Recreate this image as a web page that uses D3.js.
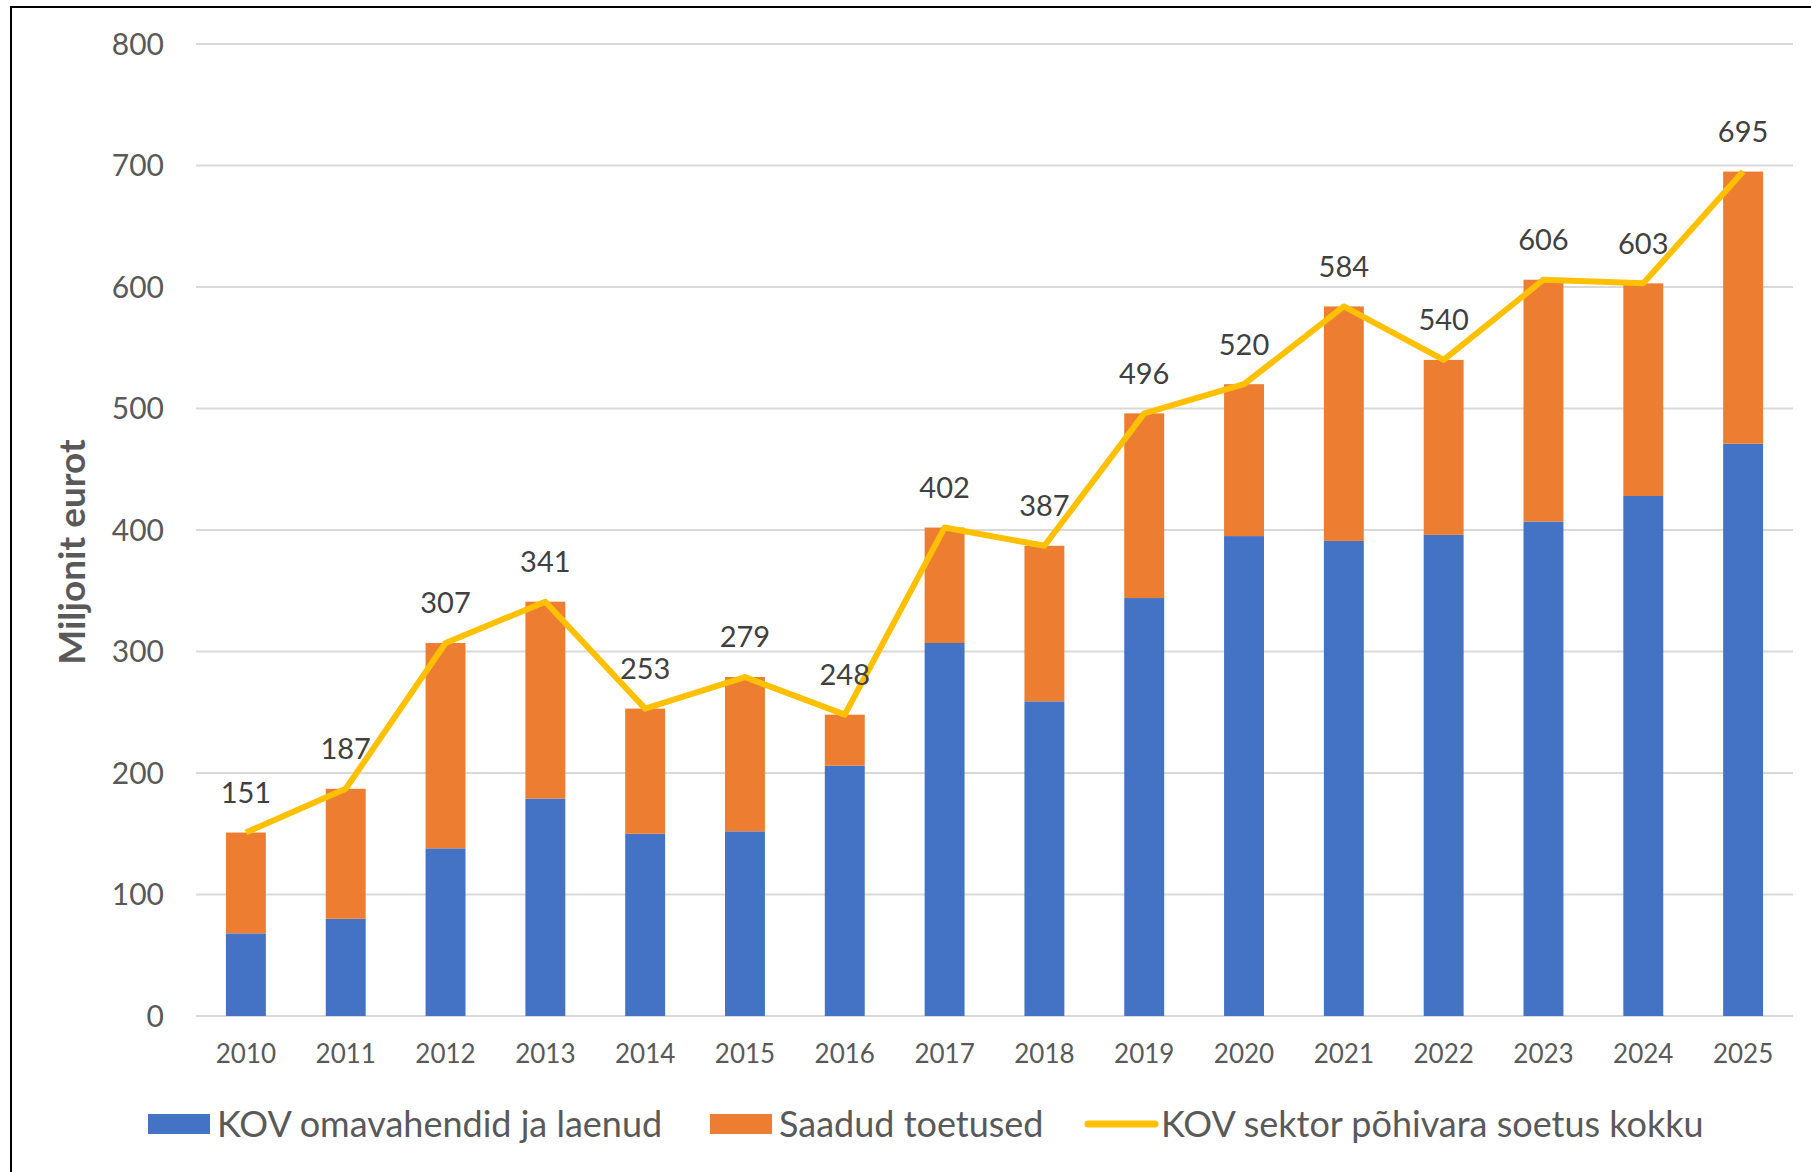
<!DOCTYPE html>
<html>
<head>
<meta charset="utf-8">
<script src="https://d3js.org/d3.v7.min.js"></script>
<style>
  body { margin: 0; background: #fff; }
  svg { display: block; font-family: Lato, "Open Sans", sans-serif; }
</style>
</head>
<body>
<script>
// data (million euros)
var years = ["2010","2011","2012","2013","2014","2015","2016","2017","2018","2019","2020","2021","2022","2023","2024","2025"];
var ownFunds = [68, 80, 138, 179, 150, 152, 206, 307, 259, 344, 395, 391, 396, 407, 428, 471];
var grants   = [83, 107, 169, 162, 103, 127, 42, 95, 128, 152, 125, 193, 144, 199, 175, 224];
var totals   = [151, 187, 307, 341, 253, 279, 248, 402, 387, 496, 520, 584, 540, 606, 603, 695];
var yTicks = [0, 100, 200, 300, 400, 500, 600, 700, 800];
var seriesNames = ["KOV omavahendid ja laenud", "Saadud toetused", "KOV sektor põhivara soetus kokku"];
var colors = ["#4472C4", "#ED7D31", "#FFC000"];

var W = 1811, H = 1172;
var svg = d3.select("body").append("svg").attr("width", W).attr("height", H);
svg.append("rect").attr("width", W).attr("height", H).attr("fill", "#fff");

// frame (only left and top edges are inside the picture)
svg.append("path").attr("d", "M11,1172 V7 H1811").attr("fill", "none").attr("stroke", "#000").attr("stroke-width", 2);

var x = d3.scaleBand().domain(years).range([196, 1793]).paddingInner(0.6).paddingOuter(0.3);
var y = d3.scaleLinear().domain([0, 800]).range([1016, 44]);

// gridlines
svg.append("g").selectAll("line").data(yTicks).enter().append("line")
  .attr("x1", 196).attr("x2", 1793)
  .attr("y1", function(d){ return y(d); }).attr("y2", function(d){ return y(d); })
  .attr("stroke", "#D9D9D9").attr("stroke-width", 2);

// y tick labels
svg.append("g").selectAll("text").data(yTicks).enter().append("text")
  .attr("x", 164).attr("y", function(d){ return y(d); })
  .attr("dy", "0.36em").attr("text-anchor", "end")
  .attr("font-size", 30).attr("fill", "#595959")
  .text(function(d){ return d; });

// x tick labels
svg.append("g").selectAll("text").data(years).enter().append("text")
  .attr("x", function(d){ return x(d) + x.bandwidth() / 2; }).attr("y", 1054)
  .attr("dy", "0.36em").attr("text-anchor", "middle")
  .attr("font-size", 26).attr("fill", "#595959")
  .text(function(d){ return d; });

// stacked bars
var rows = years.map(function(yr, i){ return {year: yr, own: ownFunds[i], grants: grants[i]}; });
var stacked = d3.stack().keys(["own", "grants"])(rows);
svg.append("g").selectAll("g").data(stacked).enter().append("g")
  .attr("fill", function(d, i){ return colors[i]; })
  .selectAll("rect").data(function(d){ return d; }).enter().append("rect")
  .attr("x", function(d){ return x(d.data.year); })
  .attr("width", x.bandwidth())
  .attr("y", function(d){ return y(d[1]); })
  .attr("height", function(d){ return y(d[0]) - y(d[1]); });

// total line
var line = d3.line()
  .x(function(d, i){ return x(years[i]) + x.bandwidth() / 2; })
  .y(function(d){ return y(d); });
svg.append("path").datum(totals).attr("d", line)
  .attr("fill", "none").attr("stroke", colors[2]).attr("stroke-width", 6)
  .attr("stroke-linejoin", "round");

// total labels
svg.append("g").selectAll("text").data(totals).enter().append("text")
  .attr("x", function(d, i){ return x(years[i]) + x.bandwidth() / 2; })
  .attr("y", function(d){ return y(d) - 40; })
  .attr("dy", "0.36em").attr("text-anchor", "middle")
  .attr("font-size", 29).attr("fill", "#404040")
  .text(function(d){ return d; });

// y axis title
svg.append("text")
  .attr("transform", "translate(72,552) rotate(-90)")
  .attr("dy", "0.36em").attr("text-anchor", "middle")
  .attr("font-size", 37).attr("font-weight", "bold").attr("fill", "#595959")
  .text("Miljonit eurot");

// legend
var legendY = 1124;
var legendPos = [148, 710, 1088];
var leg = svg.append("g").selectAll("g").data(seriesNames).enter().append("g")
  .attr("transform", function(d, i){ return "translate(" + legendPos[i] + "," + legendY + ")"; });
leg.each(function(d, i){
  var g = d3.select(this);
  if (i < 2) {
    g.append("rect").attr("x", 0).attr("y", -10).attr("width", 62).attr("height", 20).attr("fill", colors[i]);
  } else {
    g.append("line").attr("x1", 0).attr("x2", 67).attr("stroke", colors[i]).attr("stroke-width", 7).attr("stroke-linecap", "round");
  }
  g.append("text").attr("x", i < 2 ? 69 : 73).attr("dy", "0.36em")
    .attr("font-size", 36).attr("fill", "#595959").text(d);
});
</script>
</body>
</html>
